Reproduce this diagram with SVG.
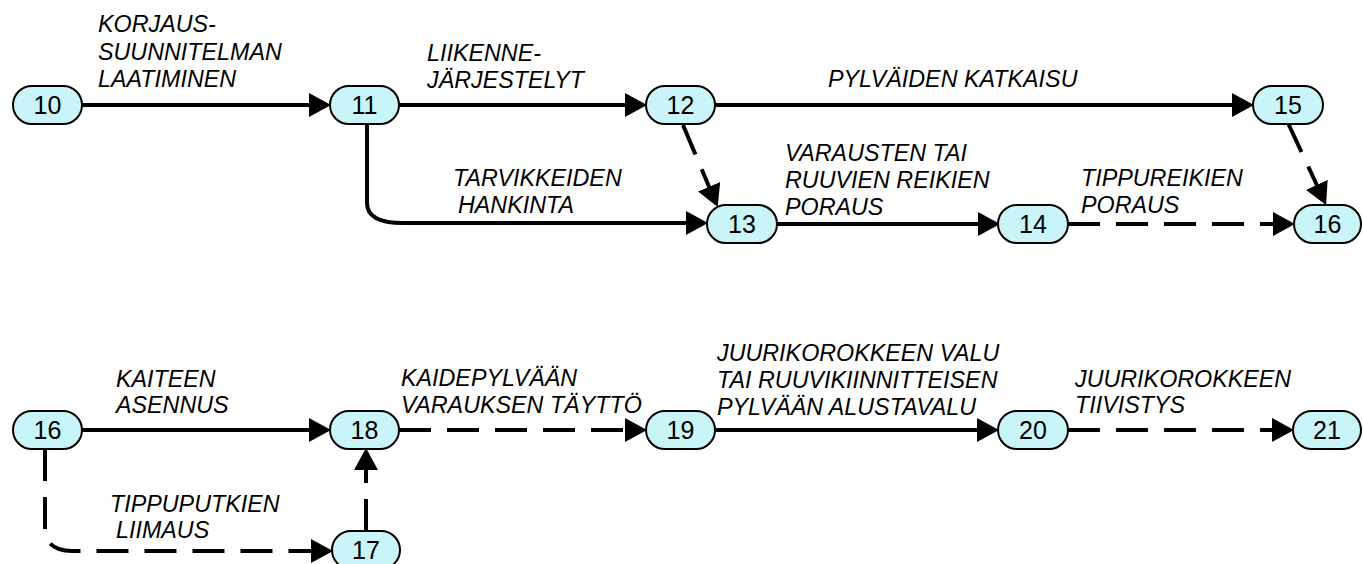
<svg xmlns="http://www.w3.org/2000/svg" width="1363" height="564" viewBox="0 0 1363 564">
<style>
.node rect{fill:#c9f4f8;stroke:#000;stroke-width:2}
.node text{font-family:"Liberation Sans",Arial,sans-serif;font-size:25px;text-anchor:middle;fill:#000}
.lbl{font-family:"Liberation Sans",Arial,sans-serif;font-size:23.3px;font-style:italic;fill:#000}
.c{fill:none;stroke:#000;stroke-width:4}
.d{stroke-dasharray:32 16}
</style>
<defs>
<marker id="ah" markerUnits="userSpaceOnUse" markerWidth="22" markerHeight="24" refX="10" refY="12" orient="auto" viewBox="0 0 22 24">
<path d="M0,0 L22,12 L0,24 z" fill="#000"/>
</marker>
</defs>
<g id="connectors">
<path class="c" d="M82,105 L319,105" marker-end="url(#ah)"/>
<path class="c" d="M399,105 L635,105" marker-end="url(#ah)"/>
<path class="c" d="M715,105 L1242,105" marker-end="url(#ah)"/>
<path class="c" d="M367,124 L367,203 C367,216 378,223 403,223 L696,223" marker-end="url(#ah)"/>
<path class="c d" d="M683,125 L713,196" marker-end="url(#ah)"/>
<path class="c" d="M777,224 L988,224" marker-end="url(#ah)"/>
<path class="c d" d="M1068,224 L1283,224" marker-end="url(#ah)"/>
<path class="c d" d="M1288,123 L1321,194" marker-end="url(#ah)"/>
<path class="c" d="M82,430 L319,430" marker-end="url(#ah)"/>
<path class="c d" d="M399,430 L635,430" marker-end="url(#ah)"/>
<path class="c" d="M715,430 L987,430" marker-end="url(#ah)"/>
<path class="c d" d="M1068,430 L1282,430" marker-end="url(#ah)"/>
<path class="c d" d="M45,449 L45,530 C45,543 55,551 72,551 L321,551" marker-end="url(#ah)"/>
<path class="c d" d="M366,531 L366,460" marker-end="url(#ah)"/>
</g>
<g id="n10" class="node"><rect x="13" y="86" width="69" height="38" rx="19"/><text x="47.5" y="114">10</text></g>
<g id="n11" class="node"><rect x="330" y="86" width="69" height="38" rx="19"/><text x="364.5" y="114">11</text></g>
<g id="n12" class="node"><rect x="646" y="86" width="69" height="38" rx="19"/><text x="680.5" y="114">12</text></g>
<g id="n15" class="node"><rect x="1253" y="86" width="70" height="38" rx="19"/><text x="1288" y="114">15</text></g>
<g id="n13" class="node"><rect x="707" y="205" width="70" height="38" rx="19"/><text x="742" y="233">13</text></g>
<g id="n14" class="node"><rect x="998" y="205" width="70" height="38" rx="19"/><text x="1033" y="233">14</text></g>
<g id="n16a" class="node"><rect x="1294" y="205" width="67" height="38" rx="19"/><text x="1327.5" y="233">16</text></g>
<g id="n16b" class="node"><rect x="13" y="411" width="69" height="38" rx="19"/><text x="47.5" y="439">16</text></g>
<g id="n18" class="node"><rect x="330" y="411" width="69" height="38" rx="19"/><text x="364.5" y="439">18</text></g>
<g id="n19" class="node"><rect x="646" y="411" width="69" height="38" rx="19"/><text x="680.5" y="439">19</text></g>
<g id="n20" class="node"><rect x="998" y="411" width="70" height="38" rx="19"/><text x="1033" y="439">20</text></g>
<g id="n21" class="node"><rect x="1293" y="411" width="68" height="38" rx="19"/><text x="1327" y="439">21</text></g>
<g id="n17" class="node"><rect x="332" y="531" width="68" height="38" rx="19"/><text x="366" y="559">17</text></g>
<g id="labels">
<text class="lbl" x="98" y="32">KORJAUS-</text>
<text class="lbl" x="98" y="60">SUUNNITELMAN</text>
<text class="lbl" x="98" y="87">LAATIMINEN</text>
<text class="lbl" x="427" y="61">LIIKENNE-</text>
<text class="lbl" x="427" y="88">JÄRJESTELYT</text>
<text class="lbl" x="828" y="87">PYLVÄIDEN KATKAISU</text>
<text class="lbl" x="785" y="161">VARAUSTEN TAI</text>
<text class="lbl" x="785" y="188">RUUVIEN REIKIEN</text>
<text class="lbl" x="785" y="215">PORAUS</text>
<text class="lbl" x="453" y="186">TARVIKKEIDEN</text>
<text class="lbl" x="458" y="213">HANKINTA</text>
<text class="lbl" x="1081" y="186">TIPPUREIKIEN</text>
<text class="lbl" x="1081" y="213">PORAUS</text>
<text class="lbl" x="116" y="387">KAITEEN</text>
<text class="lbl" x="116" y="413">ASENNUS</text>
<text class="lbl" x="401" y="386">KAIDEPYLVÄÄN</text>
<text class="lbl" x="401" y="413">VARAUKSEN TÄYTTÖ</text>
<text class="lbl" x="717" y="361">JUURIKOROKKEEN VALU</text>
<text class="lbl" x="717" y="388">TAI RUUVIKIINNITTEISEN</text>
<text class="lbl" x="717" y="415">PYLVÄÄN ALUSTAVALU</text>
<text class="lbl" x="1075" y="387">JUURIKOROKKEEN</text>
<text class="lbl" x="1075" y="413">TIIVISTYS</text>
<text class="lbl" x="110" y="512">TIPPUPUTKIEN</text>
<text class="lbl" x="116" y="538">LIIMAUS</text>
</g>
</svg>
